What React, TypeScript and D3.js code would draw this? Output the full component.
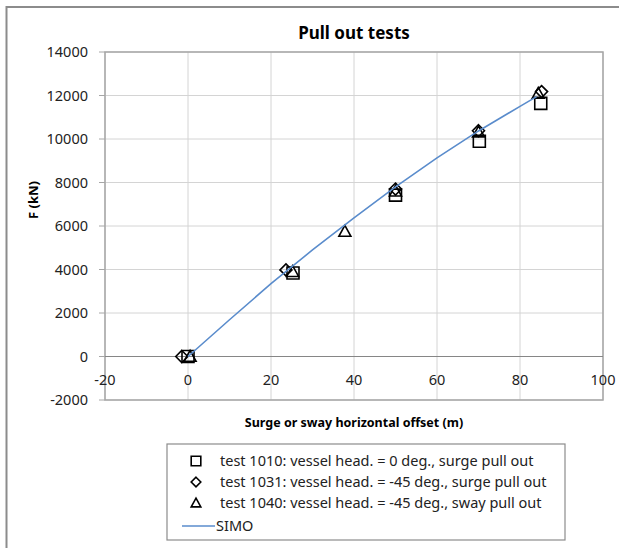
import React, { useMemo } from 'react';
import * as d3 from 'd3';

// test 1010: vessel head. = 0 deg., surge pull out
const test1010: number[][] = [
  [0, 0],
  [25.3, 3840],
  [50, 7420],
  [70.2, 9900],
  [85, 11640],
];

// test 1031: vessel head. = -45 deg., surge pull out
const test1031: number[][] = [
  [-1.5, 0],
  [23.6, 3980],
  [50, 7700],
  [70, 10380],
  [85.2, 12180],
];

// test 1040: vessel head. = -45 deg., sway pull out
const test1040: number[][] = [
  [0.5, 0],
  [25.2, 3900],
  [37.8, 5750],
  [50, 7600],
  [70, 10320],
  [84.4, 12100],
];

// SIMO
const simo: number[][] = [
  [0, 0],
  [10, 1690],
  [20, 3350],
  [30, 4900],
  [40, 6370],
  [50, 7800],
  [60, 9130],
  [70, 10370],
  [80, 11500],
  [84, 11950],
];

const xTicks = [-20, 0, 20, 40, 60, 80, 100];
const yTicks = [-2000, 0, 2000, 4000, 6000, 8000, 10000, 12000, 14000];

const legendLabels = [
  'test 1010: vessel head. = 0 deg., surge pull out',
  'test 1031: vessel head. = -45 deg., surge pull out',
  'test 1040: vessel head. = -45 deg., sway pull out',
  'SIMO',
];

const W = 619;
const H = 548;
const PLOT = { left: 105, right: 603, top: 52, bottom: 400 };
const FONT = '"Noto Sans", "Open Sans", sans-serif';
const MK = 6;

const square = (x: number, y: number) =>
  `M${x - MK},${y - MK}h${2 * MK}v${2 * MK}h${-2 * MK}Z`;
const diamond = (x: number, y: number) =>
  `M${x},${y - MK}L${x + MK},${y}L${x},${y + MK}L${x - MK},${y}Z`;
const triangle = (x: number, y: number) =>
  `M${x},${y - MK}L${x + MK},${y + MK * 0.8}L${x - MK},${y + MK * 0.8}Z`;

function App() {
  const xScale = useMemo(
    () => d3.scaleLinear().domain([-20, 100]).range([PLOT.left, PLOT.right]),
    []
  );
  const yScale = useMemo(
    () => d3.scaleLinear().domain([-2000, 14000]).range([PLOT.bottom, PLOT.top]),
    []
  );

  const line = d3
    .line<number[]>()
    .x((d) => xScale(d[0]))
    .y((d) => yScale(d[1]));

  const series = [
    { data: test1010, shape: square },
    { data: test1031, shape: diamond },
    { data: test1040, shape: triangle },
  ];

  const legendRows = [461, 482, 503, 526];

  return (
    <svg
      width={W}
      height={H}
      viewBox={`0 0 ${W} ${H}`}
      style={{ position: 'absolute', left: 0, top: 0, background: '#fff' }}
      fontFamily={FONT}
    >
      {/* chart frame */}
      <rect x={6.5} y={7} width={W + 20} height={H + 20} fill="#fff" stroke="#8c8c8c" strokeWidth={2} />

      <text x={(PLOT.left + PLOT.right) / 2} y={39} textAnchor="middle" fontSize={17} fontWeight="bold">
        Pull out tests
      </text>

      {/* gridlines */}
      <g stroke="#d4d4d4" strokeWidth={1}>
        {xTicks.map((t) => (
          <line key={`gx${t}`} x1={xScale(t)} x2={xScale(t)} y1={PLOT.top} y2={PLOT.bottom} />
        ))}
        {yTicks.map((t) => (
          <line key={`gy${t}`} x1={PLOT.left} x2={PLOT.right} y1={yScale(t)} y2={yScale(t)} />
        ))}
      </g>

      <rect
        x={PLOT.left}
        y={PLOT.top}
        width={PLOT.right - PLOT.left}
        height={PLOT.bottom - PLOT.top}
        fill="none"
        stroke="#a6a6a6"
        strokeWidth={1.5}
      />

      {/* x axis at y = 0 */}
      <line x1={PLOT.left} x2={PLOT.right} y1={yScale(0)} y2={yScale(0)} stroke="#868686" strokeWidth={1.2} />

      {/* y ticks */}
      <g>
        {yTicks.map((t) => (
          <g key={`yt${t}`}>
            <line x1={PLOT.left - 6} x2={PLOT.left} y1={yScale(t)} y2={yScale(t)} stroke="#a6a6a6" />
            <text x={88} y={yScale(t) + 5} textAnchor="end" fontSize={14.5} fill="#222">
              {t}
            </text>
          </g>
        ))}
      </g>

      {/* x ticks */}
      <g>
        {xTicks.map((t) => (
          <text key={`xt${t}`} x={xScale(t)} y={yScale(0) + 28} textAnchor="middle" fontSize={14.5} fill="#222">
            {t}
          </text>
        ))}
      </g>

      <text
        transform={`translate(38, ${(PLOT.top + PLOT.bottom) / 2 - 26}) rotate(-90)`}
        textAnchor="middle"
        fontSize={13}
        fontWeight="bold"
      >
        F (kN)
      </text>
      <text x={(PLOT.left + PLOT.right) / 2} y={427} textAnchor="middle" fontSize={12.5} fontWeight="bold">
        Surge or sway horizontal offset (m)
      </text>

      {/* markers */}
      {series.map((s, si) => (
        <g key={`s${si}`} fill="none" stroke="#000" strokeWidth={1.6}>
          {s.data.map((d, i) => (
            <path key={i} d={s.shape(xScale(d[0]), yScale(d[1]))} />
          ))}
        </g>
      ))}

      <path d={line(simo) ?? ''} fill="none" stroke="#5a8ccc" strokeWidth={1.6} />

      {/* legend */}
      <rect x={167} y={444} width={398} height={96} fill="#fff" stroke="#8c8c8c" strokeWidth={1.2} />
      {legendLabels.map((label, i) => (
        <g key={label}>
          {i < 3 ? (
            <path
              d={series[i].shape(196, legendRows[i])}
              transform={`translate(196, ${legendRows[i]}) scale(0.8) translate(-196, ${-legendRows[i]})`}
              fill="none"
              stroke="#000"
              strokeWidth={2}
            />
          ) : (
            <line x1={182} x2={215} y1={legendRows[i]} y2={legendRows[i]} stroke="#5a8ccc" strokeWidth={1.6} />
          )}
          <text x={i < 3 ? 220 : 216} y={legendRows[i] + 5} fontSize={14.5} fill="#222">
            {label}
          </text>
        </g>
      ))}
    </svg>
  );
}

export default App;
